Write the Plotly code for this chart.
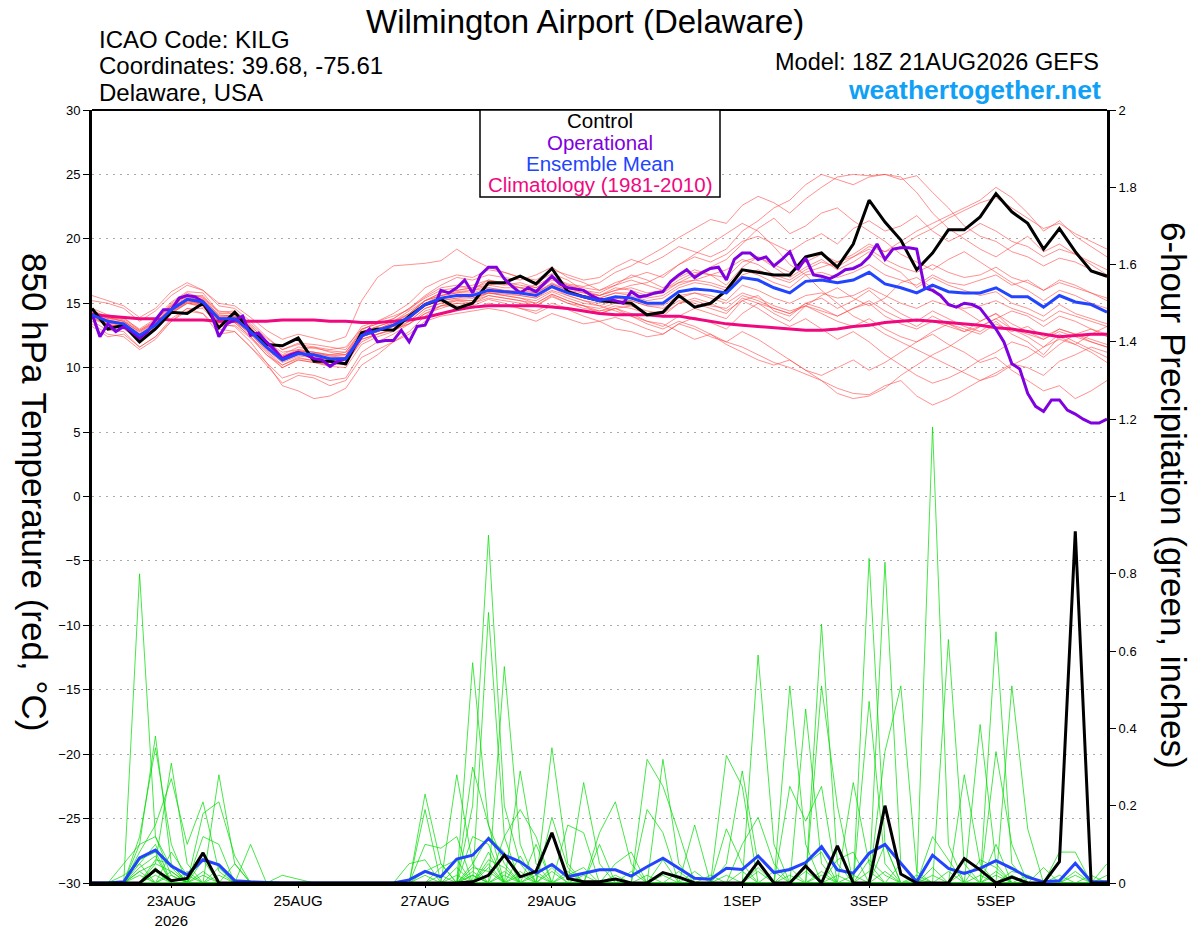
import pandas as pd
import plotly.graph_objects as go

# 6-hourly GEFS steps, 3-hourly for the operational run
times_6h = pd.date_range("2026-08-21 18:00", periods=65, freq="6h")
times_3h = pd.date_range("2026-08-21 18:00", periods=129, freq="3h")

tick_dates = ["2026-08-23", "2026-08-25", "2026-08-27", "2026-08-29",
              "2026-09-01", "2026-09-03", "2026-09-05"]
tick_labels = ["23AUG<br>2026", "25AUG", "27AUG", "29AUG", "1SEP", "3SEP", "5SEP"]

# 850 hPa temperature (C)
control_t = [14.6, 13.0, 13.3, 12.0, 13.0, 14.3, 14.2, 15.0, 13.1, 14.3, 12.9, 11.8, 11.7,
             12.3, 10.5, 10.5, 10.3, 12.7, 13.0, 12.9, 14.0, 14.9, 15.3, 14.6, 15.0, 16.6,
             16.6, 17.1, 16.5, 17.7, 15.9, 15.5, 15.2, 15.1, 15.0, 14.1, 14.3, 15.6, 14.7,
             15.0, 16.0, 17.6, 17.4, 17.2, 17.2, 18.6, 18.9, 17.8, 19.6, 23.0, 21.3, 19.9,
             17.6, 18.9, 20.7, 20.7, 21.7, 23.5, 22.1, 21.2, 19.2, 20.8, 19.0, 17.5, 17.1]

mean_t = [14.1, 13.6, 13.4, 12.5, 13.3, 14.5, 15.3, 15.1, 13.8, 13.8, 12.8, 11.6, 10.6,
          11.1, 11.0, 10.7, 10.7, 12.5, 12.9, 13.3, 13.9, 14.9, 15.4, 15.6, 15.6, 16.0,
          15.9, 15.8, 15.6, 16.3, 15.8, 15.5, 15.2, 15.5, 15.4, 15.0, 15.0, 15.9, 16.1,
          16.0, 15.8, 17.0, 16.8, 16.2, 15.8, 16.7, 16.8, 16.6, 16.8, 17.4, 16.5, 16.2,
          15.8, 16.4, 15.9, 15.8, 15.8, 16.2, 15.5, 15.5, 14.7, 15.6, 15.1, 14.9, 14.3]

clim_t = [14.1, 14.0, 13.9, 13.8, 13.8, 13.7, 13.7, 13.7, 13.6, 13.6, 13.6, 13.6, 13.7,
          13.7, 13.7, 13.6, 13.6, 13.5, 13.5, 13.6, 13.7, 13.9, 14.2, 14.5, 14.7, 14.8,
          14.8, 14.8, 14.8, 14.7, 14.6, 14.4, 14.2, 14.1, 14.1, 14.1, 14.0, 14.0, 13.8,
          13.6, 13.4, 13.3, 13.2, 13.1, 13.0, 12.9, 12.9, 13.0, 13.2, 13.3, 13.5, 13.6,
          13.7, 13.6, 13.5, 13.4, 13.3, 13.1, 13.0, 12.8, 12.6, 12.4, 12.5, 12.6, 12.6]

operational_t = [14.2, 12.4, 13.4, 12.8, 13.2, 12.8, 12.3, 12.8,
                 13.7, 14.5, 14.5, 15.4, 15.6, 15.5, 15.1, 14.3,
                 12.4, 13.4, 13.7, 14.0, 12.5, 12.7, 12.0, 11.4,
                 10.7, 11.0, 11.2, 11.0, 10.7, 10.6, 10.1, 10.5,
                 10.7, 11.6, 12.4, 13.0, 12.0, 12.1, 12.1, 12.9,
                 12.0, 13.2, 13.3, 14.5, 16.0, 15.8, 16.2, 16.8,
                 15.8, 17.2, 17.8, 17.8, 16.9, 16.3, 15.8, 16.2,
                 15.9, 16.5, 17.1, 16.5, 16.2, 16.1, 16.0, 15.6,
                 15.3, 15.3, 15.2, 15.0, 15.9, 15.5, 15.6, 15.8,
                 15.9, 16.7, 17.2, 17.6, 17.0, 17.4, 17.7, 17.8,
                 16.8, 18.4, 18.9, 18.9, 18.4, 18.6, 17.9, 18.4,
                 19.0, 17.6, 18.5, 17.2, 17.1, 16.9, 17.2, 17.6,
                 17.7, 18.0, 18.6, 19.6, 18.4, 19.2, 19.3, 19.3,
                 19.2, 16.2, 16.0, 15.6, 14.9, 14.7, 15.0, 14.9,
                 14.6, 13.8, 13.0, 12.0, 10.3, 9.9, 8.0, 7.0,
                 6.6, 7.5, 7.5, 6.7, 6.4, 6.0, 5.7, 5.7,
                 6.0]

# ensemble members (thin red)
m01 = [14.5, 13.8, 13.9, 12.9, 13.6, 15.0, 15.8, 15.4, 14.4, 14.2, 13.3, 12.0, 11.2, 11.4, 11.6, 11.2, 11.0, 12.9, 13.6, 14.0, 14.5, 15.5, 16.2, 16.4, 16.1, 16.8, 16.5, 16.2, 16.4, 17.0, 16.5, 16.3, 16.6, 17.4, 17.9, 18.6, 19.3, 20.1, 20.8, 21.5, 21.2, 22.6, 23.3, 22.8, 22.0, 23.1, 24.0, 24.8, 25.0, 24.9, 25.0, 24.6, 24.9, 23.6, 22.4, 21.0, 20.2, 19.8, 19.0, 18.6, 17.9, 18.5, 18.2, 17.6, 17.0]
m02 = [13.4, 12.6, 12.4, 11.4, 12.2, 13.6, 14.4, 14.2, 12.6, 12.8, 11.6, 10.4, 9.2, 9.6, 9.4, 9.0, 9.2, 11.2, 12.0, 12.6, 13.4, 14.2, 14.6, 15.0, 14.8, 15.3, 15.0, 14.6, 14.2, 14.8, 14.5, 14.0, 13.6, 13.9, 13.5, 13.0, 12.6, 13.4, 13.0, 12.4, 12.0, 11.6, 11.0, 10.4, 10.0, 9.5, 9.0, 8.4, 8.0, 7.9, 8.6, 9.0, 7.8, 7.1, 7.6, 8.3, 9.0, 9.6, 10.3, 10.0, 9.4, 10.5, 11.0, 11.6, 11.2]
m03 = [15.2, 15.0, 14.6, 13.6, 14.4, 15.6, 16.4, 16.0, 15.0, 14.8, 13.9, 12.9, 12.2, 12.6, 12.3, 12.0, 12.4, 15.2, 17.0, 17.9, 18.0, 18.1, 18.3, 19.2, 18.4, 17.8, 17.4, 17.0, 16.6, 17.3, 16.8, 16.0, 15.8, 16.4, 17.2, 16.8, 16.2, 17.0, 17.6, 17.2, 16.4, 17.8, 18.6, 17.8, 17.0, 17.8, 18.4, 17.6, 18.2, 19.0, 18.0, 17.4, 16.2, 17.0, 16.4, 16.0, 15.6, 15.9, 15.0, 14.6, 14.0, 14.9, 14.2, 13.8, 13.4]
m04 = [13.6, 12.9, 12.8, 11.6, 12.4, 13.8, 14.6, 14.2, 13.0, 12.8, 11.6, 10.2, 8.8, 9.4, 9.2, 8.6, 9.0, 10.8, 11.4, 12.0, 12.6, 13.6, 14.0, 14.2, 14.4, 14.6, 14.4, 14.0, 13.6, 14.2, 13.8, 13.4, 13.6, 13.0, 12.8, 12.4, 12.6, 13.4, 13.9, 13.5, 13.0, 14.2, 15.0, 14.2, 13.6, 14.8, 15.6, 16.2, 15.4, 14.8, 15.4, 16.6, 17.0, 16.2, 15.0, 14.4, 13.6, 14.2, 13.0, 12.4, 11.6, 12.6, 12.0, 11.4, 10.8]
m05 = [14.3, 13.9, 13.6, 12.8, 13.6, 14.9, 15.6, 15.5, 14.0, 14.1, 13.1, 11.9, 10.9, 11.3, 11.2, 11.0, 11.2, 12.8, 13.2, 13.6, 14.4, 15.2, 15.8, 16.0, 16.2, 16.6, 16.4, 16.6, 16.2, 17.0, 16.4, 16.0, 15.6, 16.0, 16.2, 15.8, 16.0, 16.8, 17.4, 17.2, 17.6, 18.4, 18.0, 17.2, 16.8, 17.6, 18.2, 17.8, 18.6, 19.4, 19.0, 19.8, 20.6, 21.2, 21.8, 22.4, 23.0, 24.0, 23.2, 22.0, 20.6, 21.4, 20.2, 19.4, 18.6]
m06 = [14.0, 13.4, 13.0, 12.2, 13.0, 14.2, 15.0, 14.8, 13.4, 13.2, 12.0, 10.4, 8.6, 8.2, 7.6, 7.8, 8.4, 10.2, 11.0, 12.0, 12.8, 14.0, 14.8, 15.2, 15.0, 15.6, 15.4, 15.2, 14.8, 15.6, 15.0, 14.8, 14.2, 14.6, 14.2, 13.6, 13.2, 14.0, 14.6, 14.2, 13.8, 15.2, 15.6, 14.4, 14.0, 15.0, 15.4, 14.6, 15.2, 16.0, 15.0, 14.2, 13.6, 14.4, 13.8, 13.2, 12.8, 13.6, 12.6, 12.0, 11.0, 12.4, 11.8, 11.2, 10.4]
m07 = [15.6, 15.2, 14.8, 13.9, 14.6, 15.9, 16.6, 16.0, 14.8, 14.6, 13.6, 12.4, 11.4, 11.8, 11.6, 11.4, 11.6, 13.0, 13.4, 13.8, 14.6, 15.6, 16.4, 17.0, 16.8, 17.2, 17.0, 16.8, 17.2, 17.8, 17.0, 16.6, 16.0, 16.4, 16.8, 16.4, 16.0, 16.6, 17.2, 17.8, 18.4, 19.6, 20.8, 21.6, 20.4, 21.0, 22.0, 22.4, 21.4, 20.6, 19.8, 18.8, 18.2, 17.6, 18.4, 19.0, 18.2, 17.4, 16.6, 16.0, 15.2, 16.0, 15.6, 15.0, 14.6]
m08 = [13.9, 13.3, 13.2, 12.3, 13.0, 14.3, 15.0, 14.7, 13.6, 13.5, 12.4, 11.0, 10.0, 10.6, 10.4, 10.1, 10.0, 11.8, 12.4, 12.8, 13.6, 14.6, 15.0, 15.3, 15.2, 15.8, 15.6, 15.4, 15.0, 15.7, 15.2, 14.8, 14.4, 14.6, 14.0, 13.4, 13.0, 13.6, 13.2, 12.6, 12.0, 12.8, 12.2, 11.4, 10.6, 9.8, 9.0, 8.0, 7.6, 7.8, 8.4, 9.4, 10.2, 11.0, 11.6, 12.4, 13.2, 13.8, 14.4, 14.0, 13.2, 14.0, 13.6, 13.0, 12.4]
m09 = [14.2, 13.7, 13.5, 12.6, 13.4, 14.6, 15.4, 15.3, 13.9, 14.0, 12.9, 11.8, 10.8, 11.3, 11.2, 10.9, 10.8, 12.6, 13.0, 13.5, 14.1, 15.2, 15.6, 15.9, 16.0, 16.4, 16.6, 16.2, 16.0, 16.8, 16.4, 16.2, 16.0, 16.6, 17.0, 17.4, 17.0, 18.0, 18.6, 18.2, 18.8, 19.8, 20.2, 19.6, 19.0, 19.8, 20.4, 19.6, 20.8, 21.4, 20.6, 21.0, 21.8, 20.6, 19.8, 20.4, 21.2, 20.6, 19.8, 19.4, 18.6, 19.2, 18.8, 18.2, 17.6]
m10 = [13.2, 12.4, 12.6, 11.6, 12.4, 13.6, 14.6, 14.6, 13.2, 13.3, 12.3, 11.0, 10.2, 10.8, 10.5, 10.2, 10.4, 12.0, 12.6, 13.0, 13.4, 14.4, 14.8, 14.8, 14.6, 15.0, 14.8, 14.6, 14.4, 15.0, 14.6, 14.4, 14.2, 14.6, 14.8, 14.2, 14.0, 15.0, 15.4, 15.0, 14.4, 15.2, 14.6, 13.8, 13.2, 13.8, 13.0, 12.2, 12.8, 12.0, 11.0, 10.2, 9.4, 8.8, 9.2, 9.8, 10.6, 11.2, 12.0, 11.6, 10.8, 11.8, 12.6, 13.0, 12.6]
m11 = [14.4, 14.0, 13.7, 12.9, 13.7, 14.8, 15.6, 15.6, 14.2, 14.2, 13.2, 12.1, 11.0, 11.6, 11.5, 11.3, 11.2, 13.0, 13.4, 13.8, 14.6, 15.4, 16.0, 16.2, 16.4, 16.8, 16.6, 16.4, 16.2, 16.9, 16.2, 15.8, 15.6, 16.2, 16.0, 15.6, 15.8, 16.6, 16.8, 16.6, 16.2, 17.6, 17.2, 16.6, 16.2, 17.2, 17.4, 17.0, 17.4, 18.0, 17.2, 16.8, 16.4, 17.2, 16.6, 16.4, 16.8, 17.2, 16.4, 16.8, 16.0, 16.6, 16.2, 15.8, 15.2]
m12 = [13.9, 13.4, 13.1, 12.3, 13.1, 14.3, 15.1, 14.9, 13.6, 13.6, 12.6, 11.3, 10.2, 10.7, 10.6, 10.4, 10.2, 12.2, 12.6, 12.9, 13.4, 14.2, 14.8, 15.0, 15.0, 15.4, 15.2, 15.0, 14.8, 15.5, 15.0, 14.6, 14.4, 14.8, 14.6, 14.2, 14.4, 15.2, 15.0, 14.6, 14.2, 15.4, 15.0, 14.6, 14.2, 14.8, 14.4, 14.0, 14.6, 15.2, 14.4, 13.8, 13.2, 14.0, 13.4, 13.0, 12.6, 13.4, 12.8, 13.2, 12.4, 13.0, 12.6, 12.2, 11.8]
m13 = [14.6, 14.1, 13.8, 13.0, 13.8, 15.1, 15.9, 15.8, 14.3, 14.4, 13.4, 12.3, 11.4, 11.9, 11.8, 11.6, 11.4, 13.2, 13.6, 14.2, 15.0, 16.2, 16.8, 17.2, 17.0, 17.6, 17.4, 17.0, 16.8, 17.6, 17.2, 16.8, 17.0, 17.8, 18.4, 18.0, 18.6, 19.4, 19.0, 18.6, 19.2, 20.6, 21.4, 22.4, 23.0, 24.2, 25.0, 24.6, 24.2, 24.8, 25.0, 24.8, 23.6, 22.0, 20.8, 20.0, 19.2, 18.6, 19.4, 20.2, 19.0, 19.6, 18.8, 18.0, 17.2]
m14 = [14.0, 13.5, 13.3, 12.4, 13.2, 14.4, 15.2, 15.0, 13.7, 13.7, 12.7, 11.5, 10.5, 11.0, 10.9, 10.6, 10.6, 12.4, 12.8, 13.2, 13.8, 14.8, 15.2, 15.4, 15.6, 15.8, 15.6, 15.4, 15.2, 15.9, 15.4, 15.0, 14.8, 14.4, 14.0, 13.6, 13.4, 12.8, 12.2, 12.6, 11.8, 11.2, 10.6, 10.2, 10.6, 9.8, 9.4, 10.0, 10.6, 9.8, 10.4, 11.2, 12.0, 12.8, 13.4, 12.8, 13.6, 14.2, 13.4, 12.8, 12.2, 12.8, 12.4, 12.0, 11.6]
m15 = [14.3, 13.8, 13.6, 12.7, 13.5, 14.7, 15.5, 15.2, 14.0, 14.0, 13.0, 11.9, 10.9, 11.4, 11.2, 11.0, 11.0, 12.7, 13.2, 13.6, 14.2, 15.2, 15.8, 16.0, 16.2, 16.4, 16.2, 16.2, 15.8, 16.6, 16.0, 15.8, 15.6, 16.0, 16.4, 16.6, 17.2, 18.0, 18.8, 19.6, 20.4, 21.2, 20.6, 19.4, 18.0, 17.2, 16.0, 15.0, 14.0, 13.4, 12.6, 12.0, 11.4, 10.8, 10.2, 9.6, 9.0, 9.4, 10.2, 10.8, 11.6, 12.2, 11.8, 12.6, 13.2]
m16 = [14.1, 13.6, 13.4, 12.6, 13.3, 14.4, 15.2, 15.0, 13.9, 13.8, 12.9, 11.7, 10.7, 11.2, 11.0, 10.7, 10.8, 12.4, 12.8, 13.2, 13.8, 14.8, 15.4, 15.6, 15.4, 15.8, 15.8, 15.6, 15.4, 16.2, 15.6, 15.2, 14.8, 15.2, 15.2, 14.8, 14.6, 15.4, 15.8, 15.6, 15.2, 16.4, 16.0, 15.4, 15.0, 15.6, 15.8, 15.4, 15.6, 16.2, 15.6, 15.0, 14.6, 15.2, 14.8, 14.6, 14.8, 15.2, 14.6, 14.2, 13.6, 14.4, 14.0, 13.6, 13.2]
m17 = [14.2, 13.7, 13.4, 12.5, 13.4, 14.6, 15.4, 15.2, 13.8, 13.9, 12.8, 11.6, 10.6, 11.1, 11.0, 10.7, 10.6, 12.4, 12.8, 13.4, 14.0, 15.0, 15.6, 15.8, 15.8, 16.2, 16.0, 16.0, 15.8, 16.5, 16.0, 15.6, 15.4, 15.8, 15.6, 15.2, 15.4, 16.2, 16.6, 16.4, 16.0, 17.2, 17.6, 17.0, 16.6, 17.4, 17.8, 18.2, 18.8, 19.6, 19.0, 19.4, 20.2, 20.8, 21.6, 22.2, 22.8, 23.2, 22.4, 21.6, 20.8, 21.2, 20.4, 19.8, 19.2]
m18 = [14.0, 13.5, 13.2, 12.4, 13.1, 14.4, 15.1, 15.0, 13.7, 13.6, 12.6, 11.4, 10.4, 10.9, 10.8, 10.6, 10.6, 12.4, 12.8, 13.2, 13.8, 14.8, 15.2, 15.4, 15.4, 15.8, 15.7, 15.6, 15.4, 16.0, 15.6, 15.2, 15.0, 15.4, 15.2, 14.8, 14.8, 15.6, 15.8, 15.4, 15.0, 15.8, 15.4, 14.8, 14.4, 14.8, 14.2, 13.6, 13.2, 13.8, 13.0, 12.4, 12.0, 12.6, 11.8, 11.2, 10.4, 10.8, 9.8, 9.0, 8.2, 8.6, 7.6, 8.2, 9.0]
m19 = [14.4, 13.9, 13.6, 12.8, 13.5, 14.8, 15.6, 15.3, 14.1, 14.0, 13.0, 11.8, 10.8, 11.3, 11.1, 10.9, 11.0, 12.6, 13.0, 13.5, 14.2, 15.2, 15.6, 15.8, 16.0, 16.2, 16.0, 15.8, 15.8, 16.5, 16.0, 15.6, 15.4, 15.8, 15.8, 15.4, 15.6, 16.4, 16.8, 17.2, 17.0, 18.2, 18.6, 18.0, 17.4, 18.2, 18.8, 18.2, 18.6, 19.2, 18.4, 17.8, 17.4, 18.0, 17.4, 17.0, 17.2, 17.8, 17.0, 16.6, 16.0, 16.8, 16.4, 15.8, 15.4]
m20 = [13.8, 13.3, 13.1, 12.2, 12.9, 14.2, 15.0, 14.9, 13.5, 13.5, 12.4, 11.2, 10.0, 10.6, 10.4, 10.2, 10.4, 12.2, 12.6, 13.0, 13.6, 14.6, 15.0, 15.2, 15.2, 15.6, 15.4, 15.2, 15.0, 15.7, 15.2, 14.8, 14.6, 15.0, 14.8, 14.4, 14.2, 15.0, 15.2, 14.8, 14.6, 15.6, 15.2, 14.6, 14.2, 15.0, 14.6, 14.0, 14.6, 15.0, 14.0, 13.4, 13.0, 13.6, 13.2, 12.8, 13.2, 13.8, 13.0, 12.6, 12.2, 13.0, 12.6, 12.0, 11.6]
member_t = [m01, m02, m03, m04, m05, m06, m07, m08, m09, m10,
            m11, m12, m13, m14, m15, m16, m17, m18, m19, m20]

# 6-hour precipitation (inches)
control_p = [0, 0, 0, 0, 0.034, 0.006, 0.012, 0.078, 0, 0, 0, 0, 0,
             0, 0, 0, 0, 0, 0, 0, 0, 0, 0, 0, 0.003, 0.02,
             0.072, 0.016, 0.03, 0.13, 0.012, 0.003, 0.003, 0.01, 0, 0, 0.027, 0.015, 0,
             0, 0, 0, 0.055, 0, 0, 0.044, 0, 0.096, 0, 0, 0.2, 0.023,
             0, 0, 0, 0.063, 0.034, 0, 0.015, 0, 0, 0.055, 0.91, 0, 0]
mean_p = [0, 0, 0.003, 0.065, 0.085, 0.044, 0.021, 0.06, 0.047, 0.006, 0.003, 0.001, 0,
          0, 0, 0, 0, 0, 0, 0, 0.008, 0.03, 0.016, 0.062, 0.072, 0.115,
          0.072, 0.055, 0.025, 0.048, 0.016, 0.025, 0.034, 0.034, 0.018, 0.042, 0.064, 0.038, 0.012,
          0.01, 0.038, 0.035, 0.07, 0.027, 0.035, 0.053, 0.094, 0.034, 0.025, 0.077, 0.1, 0.051,
          0.003, 0.072, 0.038, 0.025, 0.038, 0.058, 0.038, 0.015, 0.003, 0.006, 0.051, 0.003, 0.003]

p01 = [0, 0, 0, 0.80, 0.12, 0.02, 0, 0, 0, 0, 0, 0, 0,
       0, 0, 0, 0, 0, 0, 0, 0, 0, 0, 0, 0.20, 0.90,
       0.20, 0.05, 0, 0, 0, 0, 0, 0, 0, 0, 0, 0, 0,
       0, 0.05, 0.29, 0.05, 0, 0, 0, 0, 0, 0, 0, 0, 0,
       0, 1.18, 0.10, 0, 0, 0, 0, 0, 0, 0, 0, 0, 0]
p02 = [0, 0, 0.05, 0.10, 0.38, 0.05, 0, 0.08, 0, 0, 0, 0, 0,
       0, 0, 0, 0, 0, 0, 0, 0, 0.23, 0.05, 0, 0.57, 0.15,
       0.05, 0, 0, 0, 0, 0, 0, 0, 0, 0, 0, 0, 0,
       0, 0, 0, 0, 0, 0, 0, 0, 0, 0, 0.84, 0.10, 0,
       0, 0, 0, 0, 0, 0.10, 0, 0, 0, 0, 0, 0, 0]
p03 = [0, 0, 0, 0.12, 0.35, 0.10, 0, 0, 0.28, 0.05, 0, 0, 0,
       0, 0, 0, 0, 0, 0, 0, 0, 0, 0, 0.28, 0.05, 0,
       0.56, 0.10, 0, 0, 0, 0, 0, 0, 0, 0, 0, 0, 0,
       0, 0, 0, 0, 0, 0.51, 0.10, 0, 0, 0, 0, 0.83, 0.05,
       0, 0, 0, 0, 0, 0, 0, 0, 0, 0, 0, 0, 0]
p04 = [0, 0, 0, 0, 0.05, 0.31, 0.05, 0, 0, 0, 0, 0, 0,
       0, 0, 0, 0, 0, 0, 0, 0, 0.19, 0, 0, 0, 0.70,
       0.12, 0, 0, 0.35, 0.05, 0, 0, 0, 0, 0, 0, 0, 0,
       0, 0, 0, 0, 0, 0, 0, 0.67, 0.05, 0, 0, 0, 0,
       0, 0, 0, 0, 0, 0.65, 0.05, 0, 0, 0, 0, 0, 0]
p05 = [0, 0, 0, 0.08, 0.15, 0.27, 0.10, 0.21, 0.03, 0, 0, 0, 0,
       0, 0, 0, 0, 0, 0, 0, 0, 0, 0, 0, 0.30, 0.15,
       0, 0.29, 0.05, 0, 0, 0, 0, 0, 0, 0, 0.32, 0.05, 0,
       0, 0, 0, 0.59, 0.10, 0, 0, 0, 0, 0, 0, 0, 0,
       0, 0, 0, 0, 0.41, 0.05, 0, 0, 0, 0, 0, 0, 0]
p06 = [0, 0, 0, 0.05, 0, 0, 0, 0.18, 0.21, 0.07, 0, 0, 0,
       0, 0, 0, 0, 0, 0, 0, 0, 0.10, 0.09, 0.12, 0, 0,
       0, 0, 0, 0, 0, 0.26, 0.05, 0, 0, 0, 0, 0, 0,
       0, 0, 0, 0, 0, 0, 0.45, 0.05, 0, 0, 0, 0, 0,
       0, 0, 0.63, 0.05, 0, 0, 0, 0, 0, 0, 0, 0, 0]
p07 = [0, 0, 0, 0.10, 0.12, 0.04, 0, 0.12, 0.10, 0, 0.10, 0, 0,
       0, 0, 0, 0, 0, 0, 0, 0, 0, 0, 0, 0.12, 0.10,
       0, 0, 0, 0, 0, 0, 0.13, 0.21, 0.05, 0, 0, 0, 0,
       0, 0, 0, 0, 0, 0, 0, 0.51, 0.20, 0, 0.47, 0.05, 0,
       0, 0, 0, 0, 0, 0, 0, 0, 0, 0, 0, 0, 0]
p08 = [0, 0, 0, 0.06, 0.08, 0, 0, 0, 0, 0.05, 0, 0, 0,
       0, 0, 0, 0, 0, 0, 0, 0.05, 0.06, 0, 0, 0, 0,
       0.12, 0.19, 0.12, 0, 0, 0, 0, 0, 0, 0.32, 0.25, 0.13, 0,
       0, 0, 0, 0, 0, 0, 0, 0, 0, 0, 0, 0.34, 0.51,
       0.03, 0, 0, 0, 0, 0, 0.51, 0.14, 0, 0, 0, 0, 0]
p09 = [0, 0, 0, 0, 0.06, 0.05, 0, 0, 0, 0, 0, 0, 0,
       0, 0, 0, 0, 0, 0, 0, 0, 0, 0, 0, 0, 0.08,
       0, 0, 0.10, 0, 0.15, 0.13, 0, 0, 0, 0, 0, 0, 0.15,
       0, 0.33, 0.25, 0, 0, 0, 0, 0, 0, 0.26, 0.05, 0, 0,
       0, 0, 0, 0.28, 0.05, 0, 0, 0, 0, 0, 0, 0, 0]
p10 = [0, 0, 0, 0.04, 0.07, 0, 0, 0, 0, 0, 0, 0, 0,
       0, 0, 0, 0, 0, 0, 0, 0, 0, 0.04, 0.06, 0, 0,
       0, 0, 0, 0.17, 0.04, 0, 0, 0, 0, 0.19, 0.13, 0, 0,
       0, 0, 0, 0, 0, 0.25, 0.16, 0.25, 0, 0, 0, 0, 0,
       0, 0, 0, 0, 0, 0.34, 0.10, 0, 0, 0.08, 0.08, 0, 0]
p11 = [0, 0, 0, 0, 0, 0.08, 0.02, 0, 0, 0, 0, 0, 0,
       0, 0, 0, 0, 0, 0, 0, 0, 0, 0, 0, 0.05, 0.12,
       0.08, 0, 0, 0, 0, 0, 0.10, 0, 0, 0, 0, 0, 0,
       0, 0, 0.10, 0.17, 0.05, 0, 0, 0, 0, 0, 0, 0.10, 0,
       0, 0, 0, 0, 0, 0, 0, 0, 0.04, 0, 0, 0, 0.05]
p12 = [0, 0, 0.02, 0.05, 0.10, 0, 0, 0.06, 0, 0, 0, 0, 0,
       0, 0, 0, 0, 0, 0, 0, 0, 0, 0, 0.04, 0, 0,
       0, 0.07, 0, 0, 0, 0, 0, 0.05, 0.08, 0, 0, 0, 0,
       0, 0.14, 0.05, 0, 0, 0, 0, 0, 0.06, 0.08, 0, 0, 0,
       0, 0.12, 0.06, 0, 0, 0, 0, 0, 0, 0, 0, 0, 0]
p13 = [0, 0, 0, 0, 0.03, 0, 0, 0, 0.04, 0, 0, 0, 0,
       0, 0, 0, 0, 0, 0, 0, 0, 0.03, 0.05, 0, 0, 0.06,
       0.04, 0, 0, 0.03, 0, 0, 0, 0, 0, 0, 0.06, 0, 0,
       0, 0, 0, 0, 0, 0, 0.05, 0.08, 0, 0, 0, 0, 0,
       0.02, 0, 0, 0, 0.06, 0.04, 0, 0, 0, 0, 0.03, 0, 0]
p14 = [0, 0, 0, 0.03, 0.05, 0.03, 0, 0, 0, 0, 0, 0, 0.02,
       0.01, 0, 0, 0, 0, 0, 0, 0, 0, 0, 0, 0.04, 0.03,
       0, 0, 0, 0, 0.02, 0.04, 0, 0, 0, 0, 0, 0, 0.03,
       0, 0, 0, 0, 0, 0.04, 0, 0, 0, 0, 0.06, 0.02, 0,
       0, 0, 0, 0, 0, 0, 0.03, 0.02, 0, 0, 0, 0, 0]
p15 = [0, 0, 0, 0, 0.02, 0, 0, 0.03, 0, 0, 0, 0, 0,
       0, 0, 0, 0, 0, 0, 0, 0, 0, 0, 0, 0.02, 0,
       0.03, 0, 0.02, 0, 0, 0, 0, 0, 0.03, 0, 0, 0, 0,
       0, 0, 0, 0.04, 0, 0, 0, 0.03, 0, 0, 0, 0, 0.05,
       0, 0, 0.03, 0, 0, 0.02, 0, 0, 0, 0, 0, 0, 0]
p16 = [0, 0, 0, 0.02, 0, 0.02, 0, 0, 0, 0, 0, 0, 0,
       0, 0, 0, 0, 0, 0, 0, 0, 0, 0, 0.02, 0, 0.05,
       0, 0.03, 0, 0, 0, 0.02, 0, 0, 0, 0, 0, 0.03, 0,
       0, 0, 0, 0, 0.03, 0, 0, 0, 0, 0.02, 0, 0, 0,
       0, 0.04, 0, 0, 0, 0, 0, 0, 0, 0.02, 0, 0, 0]
p17 = [0, 0, 0, 0, 0, 0, 0, 0, 0.02, 0, 0, 0, 0,
       0, 0, 0, 0, 0, 0, 0, 0, 0, 0.02, 0, 0.03, 0,
       0, 0, 0, 0.04, 0, 0, 0, 0.02, 0, 0, 0, 0, 0,
       0.02, 0, 0, 0, 0, 0, 0.03, 0, 0, 0, 0, 0.03, 0,
       0, 0, 0, 0, 0.02, 0, 0, 0, 0, 0, 0, 0.02, 0]
p18 = [0, 0, 0, 0, 0.04, 0, 0.03, 0, 0, 0, 0, 0, 0,
       0, 0, 0, 0, 0, 0, 0, 0, 0, 0, 0, 0, 0.04,
       0, 0, 0.03, 0, 0, 0, 0, 0, 0, 0, 0.02, 0, 0,
       0, 0, 0.03, 0, 0, 0, 0, 0, 0.02, 0, 0, 0, 0,
       0.01, 0, 0, 0.03, 0, 0, 0, 0.02, 0, 0, 0, 0, 0]
p19 = [0, 0, 0, 0.03, 0, 0, 0, 0, 0, 0, 0, 0, 0,
       0, 0, 0, 0, 0, 0, 0, 0, 0, 0, 0, 0.02, 0,
       0.02, 0, 0, 0, 0.03, 0, 0, 0, 0, 0, 0, 0, 0,
       0, 0.02, 0, 0, 0, 0.02, 0, 0, 0, 0, 0.03, 0, 0,
       0, 0, 0, 0, 0, 0.03, 0, 0, 0, 0, 0.02, 0, 0]
p20 = [0, 0, 0, 0, 0, 0.03, 0, 0.02, 0, 0, 0, 0, 0,
       0, 0, 0, 0, 0, 0, 0, 0, 0.02, 0, 0, 0, 0,
       0, 0.02, 0, 0, 0, 0, 0, 0, 0, 0.02, 0, 0, 0,
       0, 0, 0, 0.03, 0, 0, 0, 0.02, 0, 0, 0, 0, 0,
       0, 0.02, 0, 0, 0, 0, 0.02, 0, 0, 0, 0, 0, 0.02]
member_p = [p01, p02, p03, p04, p05, p06, p07, p08, p09, p10,
            p11, p12, p13, p14, p15, p16, p17, p18, p19, p20]

RED = "rgba(255,70,70,0.75)"
GREEN = "rgba(0,220,0,0.9)"
BLACK = "#000000"
PURPLE = "#8000e0"
BLUE = "#2244ff"
PINK = "#f0087f"
FONT = "Liberation Sans, Arial, sans-serif"

fig = go.Figure()

for m in member_t:
    fig.add_trace(go.Scatter(x=times_6h[:len(m)], y=m, mode="lines",
                             line=dict(color=RED, width=0.8), yaxis="y"))
for p in member_p:
    fig.add_trace(go.Scatter(x=times_6h[:len(p)], y=p, mode="lines",
                             line=dict(color=GREEN, width=0.8), yaxis="y2"))

fig.add_trace(go.Scatter(x=times_6h, y=mean_p, mode="lines",
                         line=dict(color=BLUE, width=3), yaxis="y2"))
fig.add_trace(go.Scatter(x=times_6h, y=control_p, mode="lines",
                         line=dict(color=BLACK, width=3), yaxis="y2"))

fig.add_trace(go.Scatter(x=times_6h, y=clim_t, mode="lines",
                         line=dict(color=PINK, width=3), yaxis="y"))
fig.add_trace(go.Scatter(x=times_6h, y=control_t, mode="lines",
                         line=dict(color=BLACK, width=3), yaxis="y"))
fig.add_trace(go.Scatter(x=times_3h, y=operational_t, mode="lines",
                         line=dict(color=PURPLE, width=3), yaxis="y"))
fig.add_trace(go.Scatter(x=times_6h, y=mean_t, mode="lines",
                         line=dict(color=BLUE, width=3), yaxis="y"))

# full-window figure; the page's default body margin is removed below
W, H = 1200, 927
L, R, T, B = 92, 93, 110, 44
PLOT_W, PLOT_H = W - L - R, H - T - B


def px(x):
    # window x pixel -> paper coordinate
    return (x - L) / PLOT_W


def py(y):
    # window y pixel -> paper coordinate
    return (H - B - y) / PLOT_H


annos = [
    dict(text="Wilmington Airport (Delaware)", x=px(585), y=py(21), size=33, color=BLACK, xa="center"),
    dict(text="ICAO Code: KILG", x=px(97), y=py(40), size=24, color=BLACK, xa="left"),
    dict(text="Coordinates: 39.68, -75.61", x=px(97), y=py(66), size=24, color=BLACK, xa="left"),
    dict(text="Delaware, USA", x=px(97), y=py(93), size=24, color=BLACK, xa="left"),
    dict(text="Model: 18Z 21AUG2026 GEFS", x=px(1101), y=py(62), size=23.5, color=BLACK, xa="right"),
    dict(text="<b>weathertogether.net</b>", x=px(1103), y=py(90), size=26.5, color="#10a0f5", xa="right"),
    dict(text="Control", x=px(600), y=py(121), size=20.5, color=BLACK, xa="center"),
    dict(text="Operational", x=px(600), y=py(142), size=20.5, color=PURPLE, xa="center"),
    dict(text="Ensemble Mean", x=px(600), y=py(163), size=20.5, color=BLUE, xa="center"),
    dict(text="Climatology (1981-2010)", x=px(600), y=py(185), size=20.5, color=PINK, xa="center"),
]
annotations = [dict(text=a["text"], x=a["x"], y=a["y"], xref="paper", yref="paper",
                    xanchor=a["xa"], yanchor="middle", showarrow=False,
                    font=dict(family=FONT, size=a["size"], color=a["color"]))
               for a in annos]
annotations.append(dict(text="850 hPa Temperature (red, °C)", x=px(35), y=py(492),
                        xref="paper", yref="paper", textangle=90, showarrow=False,
                        xanchor="center", yanchor="middle",
                        font=dict(family=FONT, size=35, color=BLACK)))
annotations.append(dict(text="6-hour Precipitation (green, inches)", x=px(1174), y=py(495),
                        xref="paper", yref="paper", textangle=90, showarrow=False,
                        xanchor="center", yanchor="middle",
                        font=dict(family=FONT, size=35, color=BLACK)))

fig.update_layout(
    width=W, height=H,
    margin=dict(l=L, r=R, t=T, b=B, autoexpand=False),
    paper_bgcolor="white", plot_bgcolor="white",
    showlegend=False,
    font=dict(family=FONT, size=13, color=BLACK),
    annotations=annotations,
    shapes=[
        dict(type="line", xref="paper", yref="paper", x0=0, x1=1, y0=1, y1=1,
             line=dict(color=BLACK, width=2)),
        dict(type="rect", xref="paper", yref="paper", x0=px(480), x1=px(720),
             y0=py(197), y1=1, fillcolor="white", line=dict(color=BLACK, width=1.5),
             layer="above"),
    ],
    xaxis=dict(
        range=[times_6h[0], times_6h[-1]],
        tickvals=tick_dates, ticktext=tick_labels,
        ticks="outside", ticklen=2, tickcolor=BLACK,
        showgrid=False, zeroline=False, automargin=False,
        showline=True, linecolor=BLACK, linewidth=3,
        tickfont=dict(family=FONT, size=15),
    ),
    yaxis=dict(
        range=[-30, 30], dtick=5, tick0=0,
        ticks="outside", ticklen=6, tickcolor=BLACK,
        showgrid=True, gridcolor="#aaaaaa", griddash="2px,5px", gridwidth=1.2,
        zeroline=False, automargin=False,
        showline=True, linecolor=BLACK, linewidth=3,
        tickfont=dict(family=FONT, size=13),
    ),
    yaxis2=dict(
        range=[0, 2], dtick=0.2, tick0=0,
        overlaying="y", side="right",
        ticks="outside", ticklen=6, tickcolor=BLACK,
        showgrid=False, zeroline=False, automargin=False,
        showline=True, linecolor=BLACK, linewidth=3,
        tickfont=dict(family=FONT, size=13),
    ),
)

fig.write_html("out.html", config={"displayModeBar": False},
               post_script="document.body.style.margin = '0px';")
